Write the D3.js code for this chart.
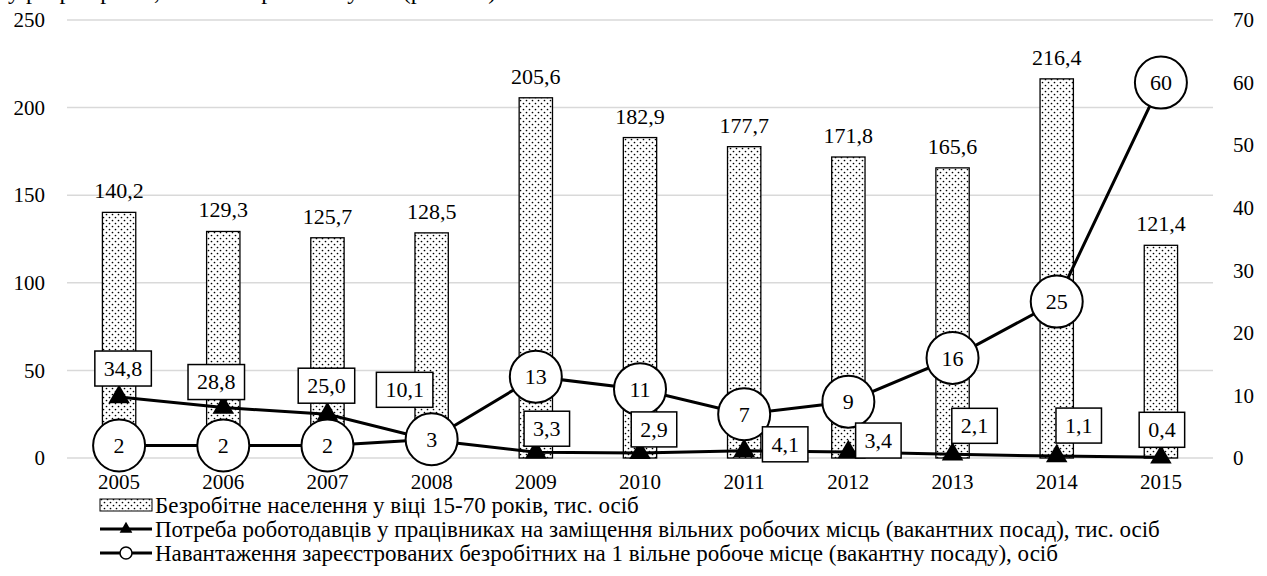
<!DOCTYPE html>
<html>
<head>
<meta charset="utf-8">
<script src="https://cdn.jsdelivr.net/npm/d3@7"></script>
</head>
<body style="margin:0;background:#fff">
<div id="chart"></div>
<script>
const years = ['2005', '2006', '2007', '2008', '2009', '2010', '2011', '2012', '2013', '2014', '2015']
const unemployed = [140.2, 129.3, 125.7, 128.5, 205.6, 182.9, 177.7, 171.8, 165.6, 216.4, 121.4]
const vacancies = [34.8, 28.8, 25.0, 10.1, 3.3, 2.9, 4.1, 3.4, 2.1, 1.1, 0.4]
const loadPerVacancy = [2, 2, 2, 3, 13, 11, 7, 9, 16, 25, 60]
const leftTicks = [0, 50, 100, 150, 200, 250]
const rightTicks = [0, 10, 20, 30, 40, 50, 60, 70]
const legendNames = [
  'Безробітне населення у віці 15-70 років, тис. осіб',
  'Потреба роботодавців у працівниках на заміщення вільних робочих місць (вакантних посад), тис. осіб',
  'Навантаження зареєстрованих безробітних на 1 вільне робоче місце (вакантну посаду), осіб'
]

// where the boxed vacancy labels sit relative to their triangle
const boxShift = [[4, -29], [-7, -26], [-1, -29], [-27, -51], [11, -24], [14, -24], [41, -7], [30, -12], [22, -29], [22, -31], [1, -28]]

const dms = { width: 1267, height: 576, left: 67, right: 1213, top: 20, bottom: 458 }
const serif = "'Liberation Serif', 'Times New Roman', Times, serif"

const fmt = v => String(v.toFixed(1)).replace('.', ',')

const svg = d3.select('#chart').append('svg')
    .attr('width', dms.width)
    .attr('height', dms.height)
    .style('font-family', serif)

const defs = svg.append('defs')
const pat = defs.append('pattern')
    .attr('id', 'dots')
    .attr('patternUnits', 'userSpaceOnUse')
    .attr('width', 6)
    .attr('height', 6)
pat.append('rect').attr('width', 6).attr('height', 6).attr('fill', '#fff')
pat.append('circle').attr('cx', 1.5).attr('cy', 1.5).attr('r', 0.85).attr('fill', '#000')
pat.append('circle').attr('cx', 4.5).attr('cy', 4.5).attr('r', 0.85).attr('fill', '#000')

// cropped line of the surrounding text
svg.append('text')
    .attr('x', 8)
    .attr('y', -1)
    .style('font-size', '24px')
    .text('у розрізі років, а також проаналізуємо (рис. 2.4)')

const x = d3.scaleBand()
    .domain(years)
    .range([dms.left, dms.right])
    .paddingInner(0.68)
    .paddingOuter(0.34)

const cx = d => x(d) + x.bandwidth() / 2

const yLeft = d3.scaleLinear().domain([0, 250]).range([dms.bottom, dms.top])
const yRight = d3.scaleLinear().domain([0, 70]).range([dms.bottom, dms.top])

// grid
svg.append('g').selectAll('line')
    .data(leftTicks)
    .join('line')
    .attr('x1', dms.left)
    .attr('x2', dms.right)
    .attr('y1', d => yLeft(d))
    .attr('y2', d => yLeft(d))
    .attr('stroke', '#d9d9d9')
    .attr('stroke-width', 1.5)

const leftAxis = svg.append('g')
    .attr('transform', `translate(${dms.left},0)`)
    .call(d3.axisLeft(yLeft).tickValues(leftTicks).tickSize(0).tickPadding(22))
leftAxis.select('.domain').remove()

const rightAxis = svg.append('g')
    .attr('transform', `translate(${dms.right},0)`)
    .call(d3.axisRight(yRight).tickValues(rightTicks).tickSize(0).tickPadding(20))
rightAxis.select('.domain').remove()

const xAxis = svg.append('g')
    .attr('transform', `translate(0,${dms.bottom})`)
    .call(d3.axisBottom(x).tickSize(0).tickPadding(16))
xAxis.select('.domain').remove()

svg.selectAll('g').attr('font-family', null)
svg.selectAll('.tick text')
    .attr('fill', '#000')
    .style('font-size', '21px')

// bars
svg.append('g').selectAll('rect')
    .data(unemployed)
    .join('rect')
    .attr('x', (d, i) => x(years[i]))
    .attr('y', d => yLeft(d))
    .attr('width', x.bandwidth())
    .attr('height', d => yLeft(0) - yLeft(d))
    .attr('fill', 'url(#dots)')
    .attr('stroke', '#000')
    .attr('stroke-width', 1.3)

svg.append('g').selectAll('text')
    .data(unemployed)
    .join('text')
    .attr('x', (d, i) => cx(years[i]))
    .attr('y', d => yLeft(d) - 14)
    .attr('text-anchor', 'middle')
    .style('font-size', '22px')
    .text(fmt)

// vacancies line
const vacLine = d3.line()
    .x((d, i) => cx(years[i]))
    .y(d => yLeft(d))

svg.append('path')
    .datum(vacancies)
    .attr('d', vacLine)
    .attr('fill', 'none')
    .attr('stroke', '#000')
    .attr('stroke-width', 3)

svg.append('g').selectAll('path')
    .data(vacancies)
    .join('path')
    .attr('d', d3.symbol(d3.symbolTriangle, 200))
    .attr('transform', (d, i) => `translate(${cx(years[i])},${yLeft(d)})`)
    .attr('fill', '#000')

// load line
const loadLine = d3.line()
    .x((d, i) => cx(years[i]))
    .y(d => yRight(d))

svg.append('path')
    .datum(loadPerVacancy)
    .attr('d', loadLine)
    .attr('fill', 'none')
    .attr('stroke', '#000')
    .attr('stroke-width', 3)

const loadDots = svg.append('g').selectAll('g')
    .data(loadPerVacancy)
    .join('g')
    .attr('transform', (d, i) => `translate(${cx(years[i])},${yRight(d)})`)
loadDots.append('circle')
    .attr('r', 26)
    .attr('fill', '#fff')
    .attr('stroke', '#000')
    .attr('stroke-width', 2)
loadDots.append('text')
    .attr('text-anchor', 'middle')
    .attr('dy', '0.35em')
    .style('font-size', '22px')
    .text(d => d)

// boxed vacancy labels
const boxes = svg.append('g').selectAll('g')
    .data(vacancies)
    .join('g')
    .attr('transform', (d, i) => `translate(${cx(years[i]) + boxShift[i][0]},${yLeft(d) + boxShift[i][1]})`)
boxes.append('text')
    .attr('text-anchor', 'middle')
    .attr('dy', '0.35em')
    .style('font-size', '22px')
    .text(fmt)
boxes.each(function () {
    const g = d3.select(this)
    const bb = g.select('text').node().getBBox()
    g.insert('rect', 'text')
        .attr('x', -bb.width / 2 - 9)
        .attr('y', -17)
        .attr('width', bb.width + 18)
        .attr('height', 35)
        .attr('fill', '#fff')
        .attr('stroke', '#000')
        .attr('stroke-width', 1.5)
})

// legend
const legend = svg.append('g')
    .attr('transform', 'translate(100,0)')
const rowY = [505, 529, 553]

legend.append('rect')
    .attr('x', 0)
    .attr('y', rowY[0] - 6)
    .attr('width', 52)
    .attr('height', 12)
    .attr('fill', 'url(#dots)')
    .attr('stroke', '#000')
    .attr('stroke-width', 1)

legend.selectAll('line')
    .data([1, 2])
    .join('line')
    .attr('x1', 0)
    .attr('x2', 52)
    .attr('y1', d => rowY[d])
    .attr('y2', d => rowY[d])
    .attr('stroke', '#000')
    .attr('stroke-width', 3)

legend.append('path')
    .attr('d', d3.symbol(d3.symbolTriangle, 70))
    .attr('transform', `translate(26,${rowY[1]})`)
    .attr('fill', '#000')

legend.append('circle')
    .attr('cx', 26)
    .attr('cy', rowY[2])
    .attr('r', 6)
    .attr('fill', '#fff')
    .attr('stroke', '#000')
    .attr('stroke-width', 1.5)

legend.selectAll('text')
    .data(legendNames)
    .join('text')
    .attr('x', 55)
    .attr('y', (d, i) => rowY[i])
    .attr('dy', '0.35em')
    .style('font-size', '23px')
    .text(d => d)
</script>
</body>
</html>
